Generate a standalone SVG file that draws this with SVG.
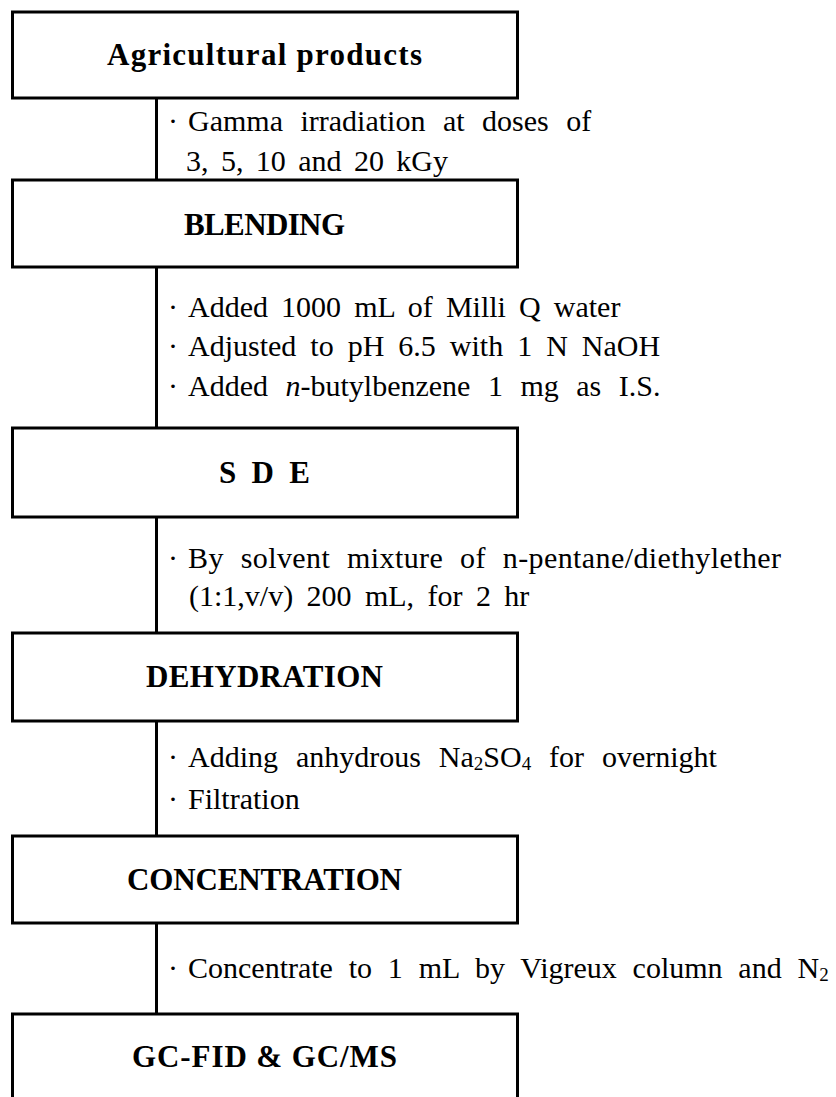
<svg xmlns="http://www.w3.org/2000/svg" width="836" height="1097" viewBox="0 0 836 1097">
<style>
.box{fill:#fff;stroke:#000;stroke-width:3}
.title{font-family:"Liberation Serif","Times New Roman",serif;font-size:31px;font-weight:bold;text-anchor:middle;fill:#000}
.body{font-family:"Liberation Serif","Times New Roman",serif;font-size:30px;fill:#000}
.conn{stroke:#000;stroke-width:3;fill:none}
.sub{font-size:19px}
</style>
<rect width="836" height="1097" fill="#fff"/>
<g id="connectors">
<line class="conn" x1="156.5" y1="98" x2="156.5" y2="180"/>
<line class="conn" x1="156.5" y1="267" x2="156.5" y2="428"/>
<line class="conn" x1="156.5" y1="517" x2="156.5" y2="633"/>
<line class="conn" x1="156.5" y1="721" x2="156.5" y2="836"/>
<line class="conn" x1="156.5" y1="923" x2="156.5" y2="1014"/>
<text class="body" y="131" style="word-spacing:10px"><tspan x="168">·</tspan><tspan x="188">Gamma irradiation at doses of</tspan></text>
<text class="body" x="186" y="171" style="word-spacing:4.9px">3, 5, 10 and 20 kGy</text>
<text class="body" y="317" style="word-spacing:5.6px"><tspan x="168">·</tspan><tspan x="188">Added 1000 mL of Milli Q water</tspan></text>
<text class="body" y="356" style="word-spacing:6.5px"><tspan x="168">·</tspan><tspan x="188">Adjusted to pH 6.5 with 1 N NaOH</tspan></text>
<text class="body" y="396" style="word-spacing:10px"><tspan x="168">·</tspan><tspan x="188">Added <tspan font-style="italic">n</tspan>-butylbenzene 1 mg as I.S.</tspan></text>
<text class="body" y="568" style="word-spacing:9px;letter-spacing:0.4px"><tspan x="168">·</tspan><tspan x="188">By solvent mixture of n-pentane/diethylether</tspan></text>
<text class="body" x="189" y="606" style="word-spacing:5.9px">(1:1,v/v) 200 mL, for 2 hr</text>
<text class="body" y="767" style="word-spacing:10.4px"><tspan x="168">·</tspan><tspan x="188">Adding anhydrous Na</tspan><tspan class="sub" dy="3">2</tspan><tspan dy="-3">SO</tspan><tspan class="sub" dy="3">4</tspan><tspan dy="-3"> for overnight</tspan></text>
<text class="body" y="809"><tspan x="168">·</tspan><tspan x="188">Filtration</tspan></text>
<text class="body" y="978" style="word-spacing:8.3px"><tspan x="168">·</tspan><tspan x="188">Concentrate to 1 mL by Vigreux column and N</tspan><tspan class="sub" dy="3">2</tspan></text>
</g>
<g id="node-agricultural">
<rect class="box" x="12.5" y="12" width="505" height="86"/>
<text class="title" x="264.5" y="65" textLength="315">Agricultural products</text>
</g>
<g id="node-blending">
<rect class="box" x="12.5" y="180" width="505" height="87"/>
<text class="title" x="264.5" y="235" textLength="161">BLENDING</text>
</g>
<g id="node-sde">
<rect class="box" x="12.5" y="428" width="505" height="89"/>
<text class="title" x="264.5" y="483" textLength="91">S D E</text>
</g>
<g id="node-dehydration">
<rect class="box" x="12.5" y="633" width="505" height="88"/>
<text class="title" x="264.5" y="687" textLength="237">DEHYDRATION</text>
</g>
<g id="node-concentration">
<rect class="box" x="12.5" y="836" width="505" height="87"/>
<text class="title" x="264.5" y="890" textLength="275">CONCENTRATION</text>
</g>
<g id="node-gc">
<rect class="box" x="12.5" y="1014" width="505" height="110"/>
<text class="title" x="264.5" y="1067" textLength="265">GC-FID &amp; GC/MS</text>
</g>
</svg>
